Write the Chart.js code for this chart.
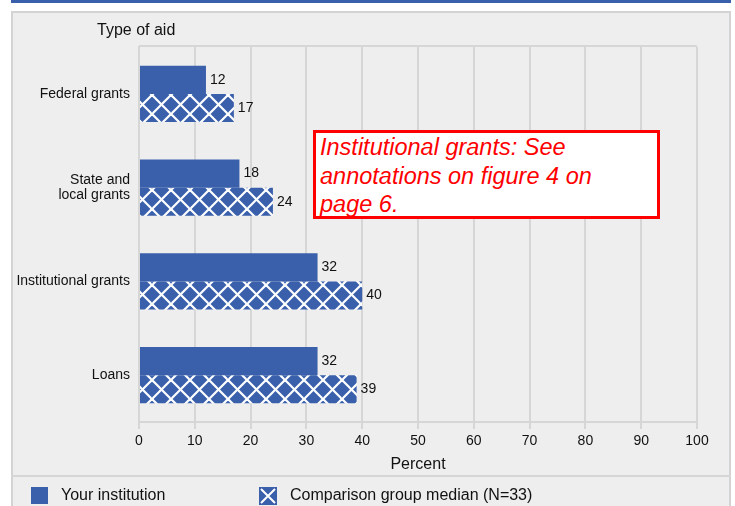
<!DOCTYPE html>
<html>
<head>
<meta charset="utf-8">
<script src="https://cdn.jsdelivr.net/npm/chart.js@4/dist/chart.umd.min.js"></script>
<style>
  html, body { margin: 0; padding: 0; background: #ffffff; }
  body { width: 735px; height: 506px; overflow: hidden; position: relative; font-family: "Liberation Sans", Arial, sans-serif; }
  #topbar { position: absolute; left: 11px; top: 0; width: 720px; height: 3px; background: #3a5fab; }
  #panel { position: absolute; left: 11px; top: 11px; width: 720px; height: 510px; box-sizing: border-box; border: 2px solid #d3d3d3; background: #eeeeee; }
  #sep { position: absolute; left: 11px; top: 475px; width: 720px; height: 2px; background: #d6d6d6; }
  #chart { position: absolute; left: 0; top: 0; }
  #note { position: absolute; left: 313px; top: 130px; width: 347px; height: 89px; box-sizing: border-box; border: 3px solid #ff0000; background: #ffffff; color: #ff0000; font-style: italic; font-size: 23.5px; line-height: 28.5px; padding: 0 0 0 4px; white-space: nowrap; }
</style>
</head>
<body>
<div id="topbar"></div>
<div id="panel"></div>
<div id="sep"></div>
<canvas id="chart" width="735" height="506"></canvas>
<div id="note">Institutional grants: See<br>annotations on figure 4 on<br>page 6.</div>
<script>
const categories = [['Federal grants'], ['State and', 'local grants'], ['Institutional grants'], ['Loans']];
const yourInstitution = [12, 18, 32, 32];
const comparisonMedian = [17, 24, 40, 39];
const seriesNames = ['Your institution', 'Comparison group median (N=33)'];
const axisTitleY = 'Type of aid';
const axisTitleX = 'Percent';

const BLUE = '#3a5fab';
const FONT = '"Liberation Sans", Arial, sans-serif';

function makeHatch(size) {
  const c = document.createElement('canvas');
  c.width = size; c.height = size;
  const g = c.getContext('2d');
  g.fillStyle = BLUE;
  g.fillRect(0, 0, size, size);
  g.strokeStyle = '#ffffff';
  g.lineWidth = 2.2;
  for (const d of [-size, 0, size]) {
    g.beginPath(); g.moveTo(d, 0); g.lineTo(d + size, size); g.stroke();
    g.beginPath(); g.moveTo(d + size, 0); g.lineTo(d, size); g.stroke();
  }
  return c;
}
const hatchTile = makeHatch(19);
const ctx = document.getElementById('chart').getContext('2d');
const hatchPattern = ctx.createPattern(hatchTile, 'repeat');

const framePlugin = {
  id: 'frame',
  beforeDatasetsDraw(chart) {
    const a = chart.chartArea, c = chart.ctx;
    c.save();
    c.strokeStyle = '#d6d6d6';
    c.lineWidth = 2;
    c.beginPath();
    c.moveTo(a.left, a.top - 1); c.lineTo(a.right, a.top - 1);
    c.stroke();
    c.restore();
  },
  afterDatasetsDraw(chart) {
    const c = chart.ctx;
    c.save();
    c.font = '14px ' + FONT;
    c.fillStyle = '#111';
    c.textBaseline = 'middle';
    c.textAlign = 'left';
    chart.data.datasets.forEach((ds, di) => {
      chart.getDatasetMeta(di).data.forEach((bar, i) => {
        c.fillText(String(ds.data[i]), bar.x + 4, bar.y);
      });
    });
    // y axis heading
    c.font = '16px ' + FONT;
    c.fillText(axisTitleY, 97, 31);
    // legend
    c.fillStyle = BLUE;
    c.fillRect(31, 487, 17, 17);
    c.fillRect(259, 487, 18, 18);
    c.strokeStyle = '#ffffff';
    c.lineWidth = 2;
    c.beginPath();
    c.moveTo(261, 489); c.lineTo(275, 503);
    c.moveTo(275, 489); c.lineTo(261, 503);
    c.stroke();
    c.font = '16px ' + FONT;
    c.fillStyle = '#111';
    c.fillText(seriesNames[0], 61, 496);
    c.fillText(seriesNames[1], 290, 496);
    c.restore();
  }
};

new Chart(ctx, {
  type: 'bar',
  data: {
    labels: categories,
    datasets: [
      { label: seriesNames[0], data: yourInstitution, backgroundColor: BLUE, borderWidth: 0 },
      { label: seriesNames[1], data: comparisonMedian, backgroundColor: hatchPattern, borderWidth: 0 }
    ]
  },
  options: {
    indexAxis: 'y',
    responsive: false,
    animation: false,
    maintainAspectRatio: false,
    layout: { padding: { left: 11, right: 38, top: 47, bottom: 30 } },
    datasets: { bar: { barPercentage: 1.0, categoryPercentage: 0.6 } },
    plugins: { legend: { display: false }, tooltip: { enabled: false } },
    scales: {
      x: {
        min: 0, max: 100,
        ticks: { stepSize: 10, font: { size: 14, family: FONT }, color: '#111', padding: 4, maxRotation: 0 },
        grid: { color: '#d6d6d6', lineWidth: 2, tickLength: 7, drawTicks: true },
        border: { display: true, color: '#d6d6d6', width: 2 },
        title: { display: true, text: axisTitleX, color: '#111', font: { size: 16, family: FONT }, padding: { top: 2, bottom: 2 } },
        afterFit(scale) { scale.height = 54; }
      },
      y: {
        grid: { display: false, drawTicks: false },
        border: { display: true, color: '#d6d6d6', width: 2 },
        ticks: { font: { size: 14, family: FONT, lineHeight: 1.1 }, color: '#111', padding: 9 },
        afterFit(scale) { scale.width = 128; }
      }
    }
  },
  plugins: [framePlugin]
});
</script>
</body>
</html>
